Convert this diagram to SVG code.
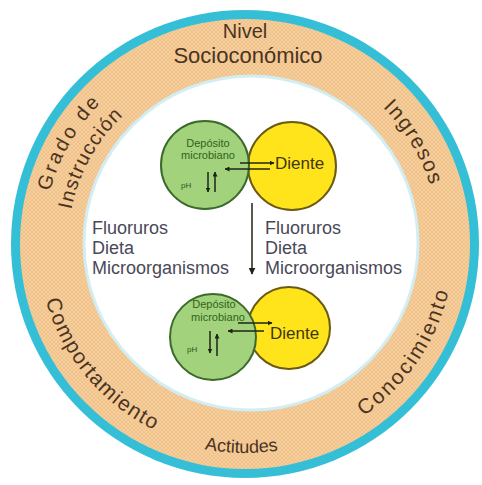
<svg xmlns="http://www.w3.org/2000/svg" width="482" height="485" viewBox="0 0 482 485">
<defs>
<pattern id="hatch" width="4" height="4" patternUnits="userSpaceOnUse">
<rect width="4" height="4" fill="#f6cf9c"/>
<path d="M0,4 L4,0 M0,0 L4,4" stroke="#ecbc84" stroke-width="0.7"/>
</pattern>
<marker id="ah" viewBox="0 0 10 10" refX="9" refY="5" markerWidth="5" markerHeight="5" orient="auto" markerUnits="userSpaceOnUse">
<path d="M0,0 L10,5 L0,10 Z" fill="#1e2418"/>
</marker>
<marker id="ahs" viewBox="0 0 10 10" refX="9" refY="5" markerWidth="7" markerHeight="7" orient="auto" markerUnits="userSpaceOnUse">
<path d="M0,0 L10,5 L0,10 Z" fill="#1e2418"/>
</marker>
<path id="pGrado" d="M70.1,345 A202,202 0 0 1 245,42"/>
<path id="pInstr" d="M93.3,335.2 A177,177 0 0 1 241.9,67"/>
<path id="pIngr" d="M241.6,50 A194,194 0 0 1 414.7,338.1"/>
<path id="pComp" d="M50.5,173.2 A207,207 0 0 0 280.9,447.9"/>
<path id="pActi" d="M62.2,345.3 A209,209 0 0 0 424.2,351.6"/>
<path id="pCono" d="M230.4,452.5 A209,209 0 0 0 432.9,152.4"/>
</defs>
<style>
.ring{font-family:"Liberation Sans",Arial,sans-serif;font-size:21px;fill:#4b3322}
.mid{font-family:"Liberation Sans",Arial,sans-serif;font-size:18px;fill:#4a4858}
.dep{font-family:"Liberation Sans",Arial,sans-serif;font-size:11px;fill:#2f6420;text-anchor:middle}
.ph{font-family:"Liberation Sans",Arial,sans-serif;font-size:8px;fill:#2f5222}
.die{font-family:"Liberation Sans",Arial,sans-serif;font-size:17px;fill:#3f3610}
.green{fill:#a2d27b;stroke:#3c6a2c;stroke-width:2}
.yellow{fill:#ffe41c;stroke:#6b5a12;stroke-width:2}
.arr{stroke:#1e2418;stroke-width:1.5;fill:none}
</style>
<rect width="482" height="485" fill="#ffffff"/>
<g id="ring">
<circle cx="245" cy="244" r="234" fill="#35bfd7"/>
<circle cx="245" cy="244" r="225" fill="url(#hatch)"/>
<circle cx="251" cy="243" r="167" fill="#ffffff" stroke="#d2eef4" stroke-width="3"/>
</g>
<g id="ring-labels">
<text class="ring" text-anchor="middle" x="245" y="38" style="font-size:20px">Nivel</text>
<text class="ring" text-anchor="middle" x="248" y="63" style="font-size:22px">Socioconómico</text>
<text class="ring" text-anchor="middle" letter-spacing="2.7" style="font-size:20px"><textPath href="#pGrado" startOffset="50%">Grado de</textPath></text>
<text class="ring" text-anchor="middle" letter-spacing="1.2" style="font-size:20px"><textPath href="#pInstr" startOffset="50%">Instrucción</textPath></text>
<text class="ring" text-anchor="middle" letter-spacing="1.6"><textPath href="#pIngr" startOffset="50%">Ingresos</textPath></text>
<text class="ring" text-anchor="middle" letter-spacing="1.4"><textPath href="#pComp" startOffset="50%">Comportamiento</textPath></text>
<text class="ring" text-anchor="middle" style="font-size:18px"><textPath href="#pActi" startOffset="50%">Actitudes</textPath></text>
<text class="ring" text-anchor="middle" letter-spacing="2.3"><textPath href="#pCono" startOffset="50%">Conocimiento</textPath></text>
</g>
<g id="top-pair">
<circle class="yellow" cx="292" cy="166" r="44"/>
<circle class="green" cx="205" cy="165" r="44"/>
<text class="dep" x="208" y="147">Depósito</text>
<text class="dep" x="208" y="159">microbiano</text>
<text class="ph" x="181" y="188">pH</text>
<text class="die" x="275" y="169">Diente</text>
</g>
<g id="bottom-pair">
<circle class="yellow" cx="289" cy="328" r="41"/>
<circle class="green" cx="213" cy="337" r="43"/>
<text class="dep" x="214" y="308">Depósito</text>
<text class="dep" x="218" y="321">microbiano</text>
<text class="ph" x="187" y="352">pH</text>
<text class="die" x="270" y="339">Diente</text>
</g>
<g id="factors">
<text class="mid" x="92" y="234">Fluoruros</text>
<text class="mid" x="92" y="254">Dieta</text>
<text class="mid" x="92" y="274">Microorganismos</text>
<text class="mid" x="265" y="234">Fluoruros</text>
<text class="mid" x="265" y="254">Dieta</text>
<text class="mid" x="265" y="274">Microorganismos</text>
</g>
<g id="connectors">
<line class="arr" x1="240" y1="163" x2="274" y2="163" marker-end="url(#ah)"/>
<line class="arr" x1="270" y1="169" x2="225" y2="169" marker-end="url(#ah)"/>
<line class="arr" x1="208" y1="172" x2="208" y2="192" marker-end="url(#ah)"/>
<line class="arr" x1="215" y1="192" x2="215" y2="172" marker-end="url(#ah)"/>
<line class="arr" x1="238" y1="323" x2="272" y2="323" marker-end="url(#ah)"/>
<line class="arr" x1="264" y1="331" x2="228" y2="331" marker-end="url(#ah)"/>
<line class="arr" x1="210" y1="331" x2="210" y2="353" marker-end="url(#ah)"/>
<line class="arr" x1="217" y1="356" x2="217" y2="334" marker-end="url(#ah)"/>
<line class="arr" x1="252" y1="203" x2="252" y2="274" stroke-width="1.3" marker-end="url(#ahs)"/>
</g>
</svg>
